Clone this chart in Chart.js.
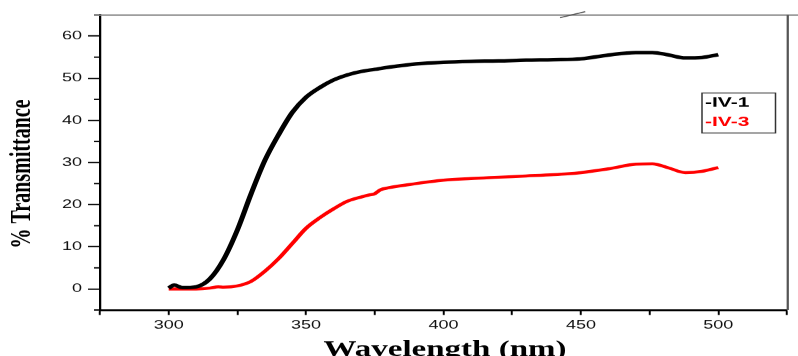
<!DOCTYPE html>
<html>
<head>
<meta charset="utf-8">
<script src="https://cdn.jsdelivr.net/npm/chart.js@4.4.0/dist/chart.umd.min.js"></script>
<style>
html, body { margin: 0; padding: 0; background: #fff; overflow: hidden; }
/* the original figure is stretched sideways, so draw narrow and widen */
#wrap { width: 532px; height: 356px; transform: scaleX(1.5); transform-origin: 0 0; }
</style>
</head>
<body>
<div id="wrap"><canvas id="myChart"></canvas></div>
<script>
// data
var waveIV1 = [300, 302, 305, 310, 315, 320, 325, 330, 335, 340, 345, 350, 355, 360, 365, 370, 375, 380, 390, 400, 410, 420, 430, 440, 450, 460, 470, 476, 482, 488, 494, 500];
var transIV1 = [0.2, 0.9, 0.3, 0.5, 2.4, 7.0, 14.0, 22.6, 30.5, 36.6, 41.9, 45.5, 47.8, 49.6, 50.8, 51.6, 52.1, 52.6, 53.4, 53.8, 54.0, 54.1, 54.3, 54.4, 54.6, 55.5, 56.1, 56.1, 55.5, 54.8, 54.9, 55.6];
var waveIV3 = [300, 305, 310, 315, 318, 320, 325, 330, 335, 340, 345, 350, 355, 360, 365, 370, 373, 375, 377, 380, 390, 400, 410, 420, 430, 440, 445, 450, 460, 470, 476, 482, 488, 494, 500];
var transIV3 = [0, 0, 0, 0.2, 0.5, 0.4, 0.7, 1.8, 4.2, 7.2, 10.8, 14.4, 16.9, 19.0, 20.8, 21.8, 22.3, 22.6, 23.5, 24.0, 25.0, 25.8, 26.2, 26.5, 26.8, 27.1, 27.3, 27.6, 28.5, 29.6, 29.7, 28.7, 27.6, 27.9, 28.8];
var seriesNames = ['IV-1', 'IV-3'];
var seriesColors = ['#000000', '#ff0000'];
var xLabels = [300, 350, 400, 450, 500];
var yLabels = [0, 10, 20, 30, 40, 50, 60];
var xTitle = 'Wavelength (nm)';
var yTitle = '% Transmittance';

function toPoints(xs, ys) {
  return xs.map(function (x, i) { return { x: x, y: ys[i] }; });
}

function line(ctx, x1, y1, x2, y2) {
  ctx.beginPath();
  ctx.moveTo(x1, y1);
  ctx.lineTo(x2, y2);
  ctx.stroke();
}

// minor ticks, frame, break mark, axis titles and the boxed legend
var extras = {
  id: 'extras',
  afterDraw: function (chart) {
    var ctx = chart.ctx, a = chart.chartArea, ys = chart.scales.y;
    ctx.save();
    ctx.strokeStyle = '#000';
    ctx.lineWidth = 1.3;
    for (var v = -5; v <= 65; v += 10) {
      var py = ys.getPixelForValue(v);
      line(ctx, a.left - 4, py, a.left, py);
    }
    ctx.strokeStyle = '#888';
    ctx.lineWidth = 1.5;
    line(ctx, a.left - 4, a.top, chart.width, a.top);
    ctx.strokeStyle = '#555';
    line(ctx, a.right + 0.5, a.top, a.right + 0.5, a.bottom);
    ctx.lineWidth = 1;
    line(ctx, a.left + 306.7, a.top + 2.7, a.left + 323.5, a.top - 3.3);

    ctx.fillStyle = '#000';
    ctx.textAlign = 'center';
    ctx.textBaseline = 'middle';
    ctx.save();
    ctx.translate(14.7, 174);
    ctx.rotate(-Math.PI / 2);
    ctx.font = 'bold 20px "Liberation Serif"';
    ctx.fillText(yTitle, 0, 0);
    ctx.restore();
    ctx.textBaseline = 'alphabetic';
    ctx.font = 'bold 22px "Liberation Serif"';
    ctx.fillText(xTitle, 296.7, 356);

    ctx.strokeStyle = '#333';
    ctx.lineWidth = 1;
    ctx.strokeRect(468, 93, 49, 40);
    ctx.textAlign = 'left';
    ctx.textBaseline = 'middle';
    ctx.font = 'bold 14px "Liberation Sans"';
    chart.data.datasets.forEach(function (ds, i) {
      ctx.fillStyle = ds.borderColor;
      ctx.fillText('-' + ds.label, 470, 103 + i * 19);
    });
    ctx.restore();
  }
};

var ctx = document.getElementById('myChart').getContext('2d');
var chart = new Chart(ctx, {
  type: 'scatter',
  data: {
    datasets: [{
      label: seriesNames[0],
      data: toPoints(waveIV1, transIV1),
      showLine: true,
      borderColor: seriesColors[0],
      borderWidth: 3.5,
      pointRadius: 0,
      cubicInterpolationMode: 'monotone'
    }, {
      label: seriesNames[1],
      data: toPoints(waveIV3, transIV3),
      showLine: true,
      borderColor: seriesColors[1],
      borderWidth: 3,
      pointRadius: 0,
      cubicInterpolationMode: 'monotone'
    }]
  },
  options: {
    responsive: true,
    maintainAspectRatio: false,
    animation: false,
    devicePixelRatio: 1.5,
    layout: { padding: { left: 0, right: 7.33, top: 15, bottom: 0 } },
    plugins: { legend: { display: false }, tooltip: { enabled: false } },
    scales: {
      x: {
        type: 'linear',
        min: 275, max: 525,
        afterFit: function (scale) { scale.height = 46; },
        border: { color: '#000', width: 2 },
        grid: { drawOnChartArea: false, tickLength: 5, tickColor: '#000', tickWidth: 1.3 },
        ticks: {
          stepSize: 25, autoSkip: false, maxRotation: 0, padding: 3,
          color: '#111', font: { family: 'Liberation Sans', size: 12 },
          callback: function (v) { return xLabels.indexOf(v) >= 0 ? String(v) : ''; }
        }
      },
      y: {
        min: -5, max: 65,
        afterFit: function (scale) { scale.width = 66.67; },
        border: { color: '#000', width: 1.5 },
        grid: {
          drawOnChartArea: false, tickLength: 8, tickWidth: 1.3,
          tickColor: function (c) { return yLabels.indexOf(c.tick.value) >= 0 ? '#000' : 'rgba(0,0,0,0)'; }
        },
        ticks: {
          stepSize: 5, autoSkip: false, padding: 4,
          color: '#111', font: { family: 'Liberation Sans', size: 12 },
          callback: function (v) { return yLabels.indexOf(v) >= 0 ? String(v) : ''; }
        }
      }
    }
  },
  plugins: [extras]
});
</script>
</body>
</html>
